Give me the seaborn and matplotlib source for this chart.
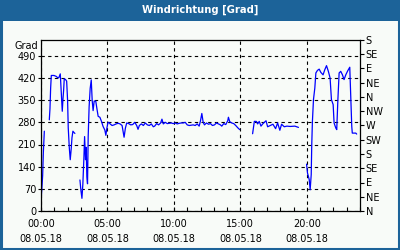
import numpy as np
import pandas as pd
import matplotlib
matplotlib.use("Agg")
import matplotlib.pyplot as plt
import seaborn as sns
from matplotlib.patches import Rectangle

title = "Windrichtung [Grad]"
y_label = "Grad"
left_ticks = [0, 70, 140, 210, 280, 350, 420, 490]
right_ticks = [0, 45, 90, 135, 180, 225, 270, 315, 360, 405, 450, 495, 540]
right_labels = ["N", "NE", "E", "SE", "S", "SW", "W", "NW", "N", "NE", "E", "SE", "S"]
x_major = [0, 5, 10, 15, 20]
x_labels = ["00:00\n08.05.18", "05:00\n08.05.18", "10:00\n08.05.18",
            "15:00\n08.05.18", "20:00\n08.05.18"]

# hours since 00:00, NaN = gap in record
hours = [0.02, 0.075, 0.125, 0.175, 0.25, np.nan,
         0.625, 0.675, 0.725, 0.775, 0.975, 1.15, 1.275, 1.35, 1.45, 1.5, 1.6, 1.65, 1.7,
         1.75, 1.85, 1.93, 2.0, 2.05, 2.13, 2.2, 2.27, 2.33, 2.4, 2.5, 2.55, np.nan,
         2.93, 3.0, 3.08, 3.15, 3.23, 3.28, 3.35, 3.4, 3.45, 3.5, 3.55, 3.62, 3.7, 3.78,
         3.85, 3.92, 4.0, 4.12, 4.2, 4.3, 4.43, 4.55, 4.67, 4.8, 4.88, 4.95, 5.03, 5.1,
         5.2, 5.35, 5.5, 5.65, 5.8, 5.95, 6.1, 6.25, 6.35, 6.45, 6.6, 6.75, 6.9, 7.05,
         7.2, 7.3, 7.4, 7.55, 7.7, 7.85, 8.0, 8.15, 8.3, 8.45, 8.55, 8.7, 8.85, 9.0, 9.1,
         9.2, 9.35, 9.5, 9.65, 9.8, 9.95, 10.1, 10.25, 10.4, 10.55, 10.7, 10.85, 11.0,
         11.15, 11.3, 11.45, 11.6, 11.75, 11.9, 12.0, 12.1, 12.2, 12.3, 12.45, 12.6,
         12.75, 12.9, 13.05, 13.2, 13.35, 13.5, 13.6, 13.75, 13.9, 14.05, 14.1, 14.2,
         14.35, 14.5, 14.65, 14.8, 14.95, np.nan,
         15.92, 16.05, 16.2, 16.3, 16.42, 16.55, 16.7, 16.93, 17.05, 17.25, 17.45, 17.65,
         17.8, 17.97, 18.1, 18.3, 18.5, 18.75, 19.1, 19.37, np.nan,
         19.98, 20.05, 20.18, 20.25, 20.33, 20.37, 20.42, 20.5, 20.6, 20.68, 20.8, 20.93,
         21.05, 21.22, 21.35, 21.48, 21.62, 21.75, 21.85, 21.98, 22.05, 22.18, 22.25,
         22.33, 22.43, 22.55, 22.68, 22.8, 22.93, 23.08, 23.23, 23.3, 23.38, 23.42,
         23.68, 23.75]

degrees = [43, 78, 113, 183, 252, np.nan,
           288, 323, 388, 428, 428, 425, 420, 422, 433, 394, 315, 352, 380,
           418, 415, 410, 350, 262, 199, 162, 195, 231, 252, 247, 245, np.nan,
           98, 66, 40, 86, 171, 235, 162, 201, 108, 86, 235, 329, 387, 414,
           350, 317, 347, 347, 325, 299, 296, 283, 267, 256, 239, 260, 278, 280,
           275, 270, 272, 275, 277, 275, 270, 233, 262, 278, 276, 272, 273, 280,
           270, 258, 270, 275, 270, 278, 272, 270, 275, 266, 268, 276, 272, 278, 290,
           275, 280, 276, 277, 278, 276, 278, 275, 277, 278, 278, 280, 272,
           270, 271, 272, 270, 275, 268, 285, 308, 280, 272, 278, 274,
           276, 270, 272, 278, 275, 272, 268, 276, 273, 285, 296, 282,
           278, 276, 270, 263, 257, np.nan,
           244, 283, 283, 275, 283, 268, 276, 285, 266, 270, 274, 260,
           278, 255, 274, 266, 268, 267, 268, 264, np.nan,
           148, 120, 99, 67, 115, 209, 283, 352, 388, 436, 444, 448,
           438, 430, 446, 459, 441, 420, 352, 336, 278, 262, 257,
           346, 436, 441, 430, 415, 430, 443, 454, 367, 267, 246,
           246, 243]

h = np.array(hours, dtype=float)
v = np.array(degrees, dtype=float)
seg = np.cumsum(np.isnan(h))
df = pd.DataFrame({"h": h, "v": v, "seg": seg}).dropna()

sns.set_theme(style="white")
plt.rcParams["font.family"] = ["DejaVu Sans"]

blue = "#1C6399"
bg = "#F8FBF8"
fig = plt.figure(figsize=(4, 2.5), dpi=100, facecolor=bg)
# title bar and frame
fig.patches.append(Rectangle((0, 0.918), 1, 0.082, transform=fig.transFigure,
                             facecolor=blue, edgecolor="none", zorder=0))
fig.patches.append(Rectangle((0.0025, 0.004), 0.995, 0.994, transform=fig.transFigure,
                             facecolor="none", edgecolor=blue, lw=2.2, zorder=5))
fig.text(0.5, 0.96, title, color="white", fontsize=7.2, fontweight="bold",
         ha="center", va="center")

ax = fig.add_axes([0.1025, 0.156, 0.7975, 0.684])
ax.set_facecolor(bg)
sns.lineplot(data=df, x="h", y="v", units="seg", estimator=None, sort=False,
             color="#0000FF", lw=0.9, ax=ax)
ax.set_xlim(0, 24)
ax.set_ylim(0, 540)
ax.set_xlabel("")
ax.set_ylabel("")

ax.set_xticks(x_major)
ax.set_xticklabels(x_labels, fontsize=7, linespacing=1.6)
ax.set_xticks(np.arange(0, 25, 1), minor=True)
ax.set_yticks(left_ticks)
ax.set_yticklabels([str(t) for t in left_ticks], fontsize=7)
ax.tick_params(axis="x", which="both", direction="in", length=3, width=0.8,
               color="black", pad=6, labelcolor="black", bottom=True)
ax.tick_params(axis="y", which="both", direction="out", length=2, width=0.8,
               color="black", pad=1.5, labelcolor="black", left=True)
ax.grid(True, which="major", color="black", linestyle=(0, (3, 3)), lw=0.8)
for s in ax.spines.values():
    s.set_visible(True)
    s.set_color("black")
    s.set_linewidth(0.9)

ax2 = ax.twinx()
ax2.set_ylim(0, 540)
ax2.set_yticks(right_ticks)
ax2.set_yticklabels(right_labels, fontsize=7)
ax2.tick_params(axis="y", direction="out", length=3, width=0.8, color="black",
                pad=1, labelcolor="black", right=True)
ax2.grid(False)
for s in ax2.spines.values():
    s.set_visible(False)

fig.text(0.035, 0.816, y_label, fontsize=7, color="black", ha="left", va="center")

fig.savefig("out.png", dpi=100, facecolor=bg)
